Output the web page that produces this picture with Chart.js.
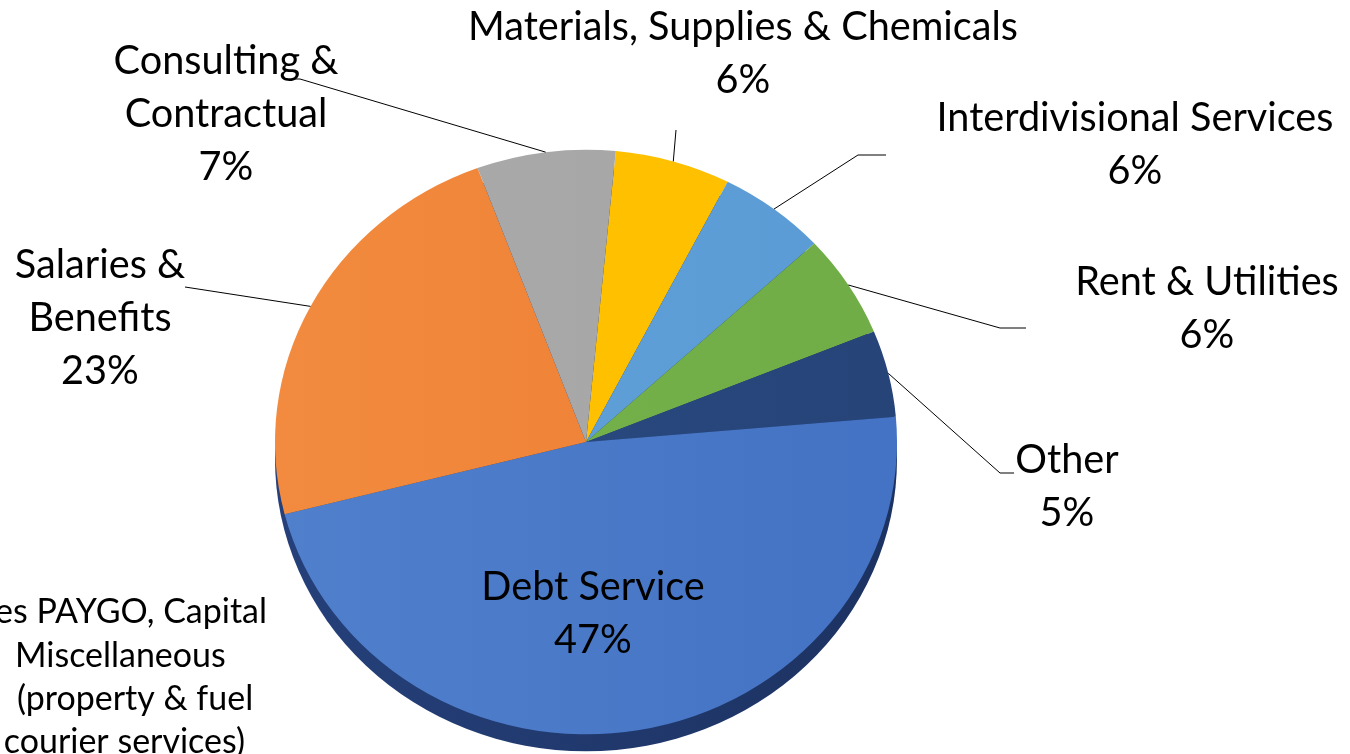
<!DOCTYPE html>
<html><head><meta charset="utf-8">
<script src="https://cdn.jsdelivr.net/npm/chart.js@4"></script>
<style>html,body{margin:0;padding:0;background:#fff;overflow:hidden}</style>
</head><body>
<canvas id="c" width="1350" height="754"></canvas>
<script>
// ---- data ----
const categories = ["Materials, Supplies & Chemicals","Interdivisional Services","Rent & Utilities","Other","Debt Service","Salaries & Benefits","Consulting & Contractual"];
const shares = [6.0, 5.6, 5.7, 4.8, 47.4, 23.3, 7.2];
const labelLines = [["Materials, Supplies & Chemicals"],["Interdivisional Services"],["Rent & Utilities"],["Other"],["Debt Service"],["Salaries &","Benefits"],["Consulting &","Contractual"]];
const noteLines = ["es PAYGO, Capital","Miscellaneous","(property & fuel","courier services)"];

// ---- styles / layout ----
const sliceColors = ["#FFC000","#5B9BD5","#70AD47","#264478","#4472C4","#ED7D31","#A5A5A5"];
const sliceLight  = ["#FFC413","#61A2DA","#76B34C","#2B4B82","#5080CC","#F28B3F","#AAAAAA"];
const FAMILY = "Lato, 'Noto Sans', sans-serif";
const yScale = 0.94, depth = 17;
const labelPos = [
  {x:743, y:27},
  {x:1135, y:118},
  {x:1207, y:282},
  {x:1067, y:460},
  {x:593, y:587},
  {x:100, y:265},
  {x:226, y:61}
];
const leaderElbows = [
  [[676,130]],
  [[858,155],[886,155]],
  [[1000,328],[1026,328]],
  [[1000,473],[1014,473]],
  null,
  [[185,287]],
  [[300,79],[292,79]]
];
const LINE = 53;

const c = document.getElementById('c');
const mctx = c.getContext('2d');
mctx.font = "100px " + FAMILY;
const fit = 550 / mctx.measureText(categories[0]).width * 100; // label font size
const noteSize = fit * 36 / 42;

const pie3d = {
  id: 'pie3d',
  beforeDatasetsDraw(chart) {
    const ctx = chart.ctx;
    const a = chart.getDatasetMeta(0).data[0];
    const cx = a.x, cy = a.y, r = a.outerRadius;
    ctx.save();
    // side (depth) of the pie
    const g = ctx.createLinearGradient(cx - r, 0, cx + r, 0);
    g.addColorStop(0, "#25407A"); g.addColorStop(1, "#1C3261");
    ctx.fillStyle = g;
    ctx.beginPath();
    ctx.ellipse(cx, cy + depth, r, r * yScale, 0, 0, Math.PI * 2);
    ctx.fill();
    ctx.translate(cx, cy); ctx.scale(1, yScale); ctx.translate(-cx, -cy);
  },
  afterDatasetsDraw(chart) {
    chart.ctx.restore();
  },
  afterDraw(chart) {
    const ctx = chart.ctx;
    const meta = chart.getDatasetMeta(0);
    const total = shares.reduce((s, v) => s + v, 0);
    ctx.save();
    // leader lines
    ctx.strokeStyle = "#000"; ctx.lineWidth = 1;
    meta.data.forEach((a, i) => {
      const el = leaderElbows[i];
      if (!el) return;
      const mid = (a.startAngle + a.endAngle) / 2;
      const px = a.x + Math.cos(mid) * a.outerRadius;
      const py = a.y + Math.sin(mid) * a.outerRadius * yScale;
      ctx.beginPath();
      ctx.moveTo(px, py);
      el.forEach(p => ctx.lineTo(p[0], p[1]));
      ctx.stroke();
    });
    // labels
    ctx.fillStyle = "#000";
    ctx.textAlign = "center"; ctx.textBaseline = "middle";
    ctx.font = fit.toFixed(2) + "px " + FAMILY;
    meta.data.forEach((a, i) => {
      const lines = labelLines[i].concat([Math.round(shares[i] / total * 100) + "%"]);
      lines.forEach((t, k) => ctx.fillText(t, labelPos[i].x, labelPos[i].y + k * LINE));
    });
    // partially visible note at bottom-left
    ctx.font = noteSize.toFixed(2) + "px " + FAMILY;
    const noteY = [612, 656, 699, 742];
    ctx.textAlign = "right"; ctx.fillText(noteLines[0], 267, noteY[0]);
    ctx.textAlign = "left"; ctx.fillText(noteLines[1], 15, noteY[1]);
    ctx.textAlign = "left"; ctx.fillText(noteLines[2], 17, noteY[2]);
    ctx.textAlign = "right"; ctx.fillText(noteLines[3], 245, noteY[3]);
    ctx.restore();
  }
};

function sliceFill(context) {
  const chart = context.chart;
  const i = context.dataIndex;
  const a = chart.getDatasetMeta(0).data[0];
  if (!a || !a.outerRadius) return sliceColors[i];
  const g = chart.ctx.createLinearGradient(a.x - a.outerRadius, 0, a.x + a.outerRadius, 0);
  g.addColorStop(0, sliceLight[i]);
  g.addColorStop(1, sliceColors[i]);
  return g;
}

new Chart(c, {
  type: 'pie',
  data: {
    labels: categories,
    datasets: [{
      data: shares,
      backgroundColor: sliceFill,
      borderWidth: 0,
      hoverOffset: 0,
      offset: 0
    }]
  },
  options: {
    responsive: false,
    animation: false,
    devicePixelRatio: 1,
    rotation: 5.5,
    layout: { padding: { left: 275, right: 453, top: 131, bottom: 1 } },
    plugins: { legend: { display: false }, tooltip: { enabled: false } },
    events: []
  },
  plugins: [pie3d]
});
</script>
</body></html>
